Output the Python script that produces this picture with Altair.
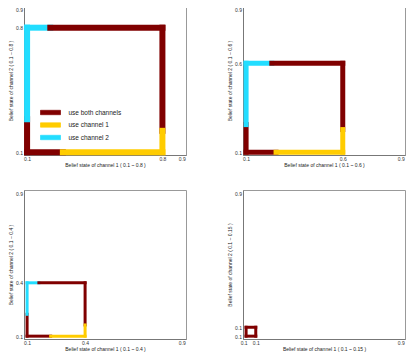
import altair as alt
import pandas as pd

# ---- data -------------------------------------------------------------
actions = ["use both channels", "use channel 1", "use channel 2"]
action_colors = ["#800000", "#ffcc00", "#22ddff"]

panel_upper = [0.8, 0.6, 0.4, 0.15]
tick_max = 0.9

# boundary segments of each policy square (panel, x1, y1, x2, y2, action)
seg_panel = [1, 1, 1, 1, 1, 1, 1, 1,
             2, 2, 2, 2, 2, 2, 2, 2,
             3, 3, 3, 3, 3, 3, 3, 3,
             4, 4, 4, 4]
seg_x1 = [0.1, 0.1, 0.1, 0.22, 0.8, 0.8, 0.1, 0.285,
          0.1, 0.1, 0.1, 0.233, 0.6, 0.6, 0.1, 0.255,
          0.1, 0.1, 0.1, 0.161, 0.4, 0.4, 0.1, 0.222,
          0.1, 0.1, 0.15, 0.1]
seg_y1 = [0.1, 0.285, 0.8, 0.8, 0.8, 0.22, 0.1, 0.1,
          0.1, 0.255, 0.6, 0.6, 0.6, 0.227, 0.1, 0.1,
          0.1, 0.223, 0.4, 0.4, 0.4, 0.163, 0.1, 0.1,
          0.1, 0.15, 0.15, 0.1]
seg_x2 = [0.1, 0.1, 0.22, 0.8, 0.8, 0.8, 0.285, 0.8,
          0.1, 0.1, 0.233, 0.6, 0.6, 0.6, 0.255, 0.6,
          0.1, 0.1, 0.161, 0.4, 0.4, 0.4, 0.222, 0.4,
          0.1, 0.15, 0.15, 0.15]
seg_y2 = [0.285, 0.8, 0.8, 0.8, 0.22, 0.1, 0.1, 0.1,
          0.255, 0.6, 0.6, 0.6, 0.227, 0.1, 0.1, 0.1,
          0.223, 0.4, 0.4, 0.4, 0.163, 0.1, 0.1, 0.1,
          0.15, 0.15, 0.1, 0.1]
seg_action = ["use both channels", "use channel 2", "use channel 2", "use both channels",
              "use both channels", "use channel 1", "use both channels", "use channel 1",
              "use both channels", "use channel 2", "use channel 2", "use both channels",
              "use both channels", "use channel 1", "use both channels", "use channel 1",
              "use both channels", "use channel 2", "use channel 2", "use both channels",
              "use both channels", "use channel 1", "use both channels", "use channel 1",
              "use both channels", "use both channels", "use both channels", "use both channels"]

df = pd.DataFrame({"panel": seg_panel, "x1": seg_x1, "y1": seg_y1,
                   "x2": seg_x2, "y2": seg_y2, "action": seg_action})

# ---- styling ----------------------------------------------------------
FONT = "Liberation Sans"
stroke_widths = [6, 5, 3, 3]
PW, PH = 162, 149
dom = [0.084, 0.922]
SWATCH = "M-2.5,-0.55L2.5,-0.55L2.5,0.55L-2.5,0.55Z"


def panel(i):
    up = panel_upper[i]
    d = df[df["panel"] == i + 1]
    sc = alt.Scale(domain=dom, nice=False, zero=False)
    vals = [0.1, up, tick_max]
    up_txt = f"{up:g}"
    extra = {}
    if i == 3:
        extra["labelAlign"] = {"condition": {"test": "datum.value < 0.12", "value": "right"},
                               "value": "center"}
        extra["labelOffset"] = {"condition": {"test": "datum.value < 0.12", "value": 1},
                                "value": 0}
    xax = alt.Axis(values=vals, format="~g", ticks=False, grid=False,
                   labelOverlap=False, labelFlush=False,
                   labelFontSize=5, labelFont=FONT, labelColor="#333",
                   labelPadding=1, minExtent=6, maxExtent=6,
                   title=f"Belief state of channel 1 ( 0.1 ~ {up_txt} )",
                   titleFontSize=5, titleFont=FONT, titleFontWeight="normal",
                   titleColor="#222", titlePadding=1.5,
                   domainColor="#777", domainWidth=1, **extra)
    yax = alt.Axis(values=vals, format="~g", ticks=False, grid=False,
                   labelOverlap=False, labelFlush=False,
                   labelFontSize=5, labelFont=FONT, labelColor="#333",
                   labelPadding=1.5, minExtent=9, maxExtent=9,
                   title=f"Belief state of channel 2 ( 0.1 ~ {up_txt} )",
                   titleFontSize=5, titleFont=FONT, titleFontWeight="normal",
                   titleColor="#222", titlePadding=1.5,
                   domainColor="#777", domainWidth=1)
    if i == 0:
        leg = alt.Legend(orient="none", legendX=22, legendY=102, title=None,
                         symbolType=SWATCH, symbolSize=64, symbolOpacity=1,
                         symbolStrokeColor="#222", symbolStrokeWidth=0.7,
                         labelFontSize=6.5, labelFont=FONT, labelColor="#222",
                         labelOffset=13.4, rowPadding=3.5)
    else:
        leg = None
    cscale = alt.Scale(domain=actions, range=action_colors)
    return alt.Chart(d).mark_rule(strokeWidth=stroke_widths[i], strokeCap="square").encode(
        x=alt.X("x1:Q", scale=sc, axis=xax),
        x2="x2:Q",
        y=alt.Y("y1:Q", scale=sc, axis=yax),
        y2="y2:Q",
        stroke=alt.Stroke("action:N", scale=cscale, legend=None),
        fill=alt.Fill("action:N", scale=cscale, legend=leg),
    ).properties(width=PW, height=PH)


chart = alt.concat(*[panel(i) for i in range(4)], columns=2,
                   spacing={"row": 21, "column": 40}).resolve_scale(
    fill="independent", stroke="independent").resolve_legend(
    fill="independent", stroke="independent").properties(
    padding={"left": 0, "top": -3, "right": 0, "bottom": 0},
    background="white").configure_view(stroke="#999", strokeWidth=1)

chart.save("out.html", embed_options={"renderer": "svg", "actions": False})
